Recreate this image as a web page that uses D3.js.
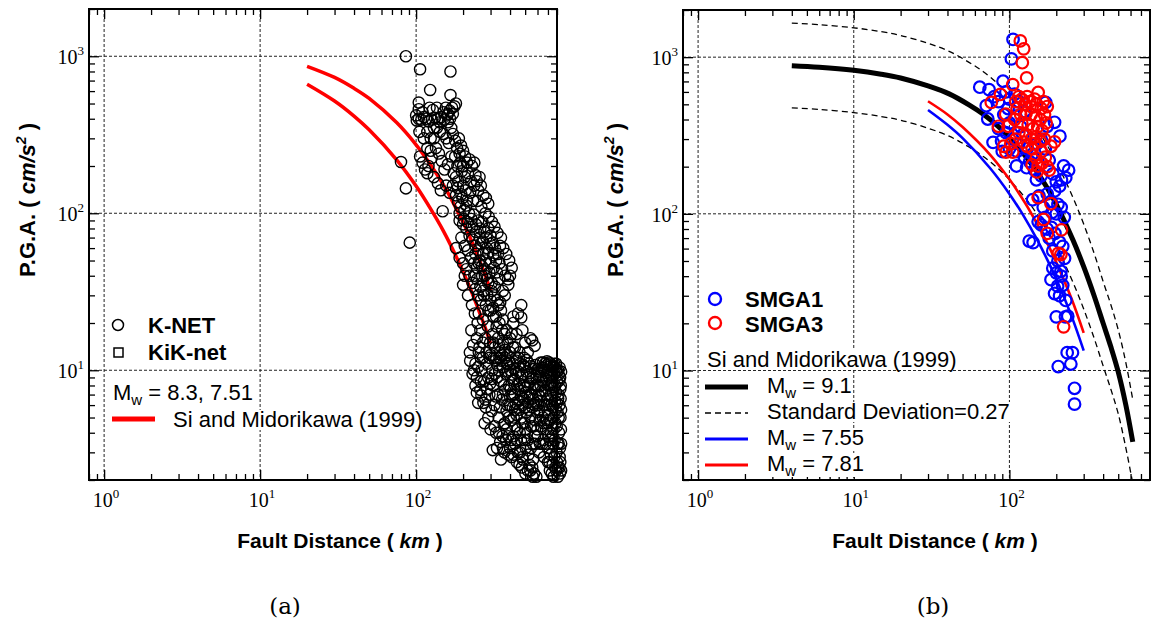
<!DOCTYPE html>
<html>
<head>
<meta charset="utf-8">
<title>P.G.A. vs Fault Distance</title>
<script src="https://cdn.jsdelivr.net/npm/d3@7/dist/d3.min.js"></script>
<style>
  body { margin: 0; background: #fff; }
  svg { display: block; }
</style>
</head>
<body>
<script>
var width = 1151, height = 623;

// (a) K-NET records: [fault distance km, PGA cm/s2]
const knet = [
  [86,1000],[106,826],[80,212],[86,144],[91,65],[104,507],[123,610],[166,800],[166,566],
  [101,390],[104,400],[108,395],[112,410],[116,400],[120,385],[126,395],[132,405],[138,400],[145,410],
  [152,395],[158,420],[164,450],[170,470],[176,480],[180,500],[172,430],[160,380],[136,470],[128,455],
  [118,330],[124,300],[130,350],[142,330],[150,320],[156,300],[162,280],[168,350],[110,210],[114,190],
  [120,200],[106,230],[126,225],[134,260],[140,240],[146,215],[152,190],[160,205],[168,230],[174,180],
  [180,170],[118,180],[130,170],[138,155],[148,103],[144,140],[156,150],[164,135],[172,150],[184,200],
  [190,240],[196,185],[200,150],[205,170],[215,180],[225,160],[240,175],[250,140],[232,120],[212,120],
  [180,130],[186,118],[192,110],[198,125],[204,105],[210,112],[218,100],[226,92],[234,98],[242,85],
  [250,90],[258,80],[266,88],[274,76],[282,70],[290,80],[300,72],[310,65],[320,60],[335,55],[345,62],
  [190,90],[200,85],[210,80],[220,72],[230,68],[240,62],[250,58],[260,64],[270,55],[280,50],[290,56],
  [300,48],[315,45],[330,42],[195,70],[205,62],[215,58],[225,52],[235,48],[245,45],[255,50],[265,40],
  [275,44],[285,38],[295,42],[305,36],[320,34],[340,38],[360,32],[370,30],[400,40],[390,35],[180,60],
  [190,52],[200,48],[210,44],[220,40],[230,36],[240,33],[250,30],[260,28],[270,32],[280,26],[290,24],
  [300,28],[312,25],[325,22],[338,26],[350,24],[360,21],[472,26],[472,21.7],[575,14.3],[555,15.5],
  [200,35],[215,30],[228,26],[238,23],[248,20],[258,18],[268,21],[278,16],[288,19],[298,15],[310,17],
  [320,14],[335,16],[345,13],[360,15],[380,18],[400,16],[420,20],[440,17],[450,23],[226,18],[221,13],
  [232,14.5],[222,11.5],[230,9.5],[240,8],[250,10.5],[260,12],[275,4.6],[205,40],[410,17],[430,14],
  [460,13],[500,15],[520,13],[540,16],[480,18],[420,22],[245,7.2],[262,6.9],[285,7.6],[298,8.2],
  [240,11],[245,9],[252,13],[258,7.5],[262,10],[268,12],[272,8.5],[278,6.5],[284,11],[290,9],[295,7],
  [300,12.5],[305,5.5],[308,10],[312,8],[318,6],[322,11.5],[326,4],[330,9],[334,7],[338,5],[342,12],
  [346,3.5],[350,8.5],[355,6.5],[360,10.5],[364,4.5],[368,3],[372,7.5],[376,9.5],[380,5.5],[385,12.5],
  [390,3.8],[394,8],[398,6],[402,10],[406,4.8],[410,2.8],[414,7],[418,11],[422,5],[426,8.8],[430,3.4],
  [434,6.2],[438,9.6],[442,2.6],[446,4.2],[450,7.6],[455,12],[460,5.6],[464,3],[468,9],[472,6.8],
  [476,2.4],[480,4.6],[485,10.8],[490,8],[494,3.6],[498,5.8],[502,2.2],[506,7.2],[510,9.8],[515,4],
  [520,6.2],[525,2.9],[530,11],[535,8.4],[540,5],[545,3.2],[550,7],[555,2.4],[560,9],[566,4.4],[572,6],
  [578,3.8],[584,8],[590,2.1],[596,5.4],[602,10.2],[608,7],[614,3],[620,4.8],[626,9.2],[632,6.4],
  [644,8.6],[650,5],[656,3.6],[662,10],[668,7.4],[680,4.2],[686,9.6],[692,6],[698,3.2],[704,8],
  [710,5.2],[716,2.6],[722,10.6],[728,7],[734,4],[740,2.2],[746,9],[752,5.8],[758,3.4],[764,7.8],
  [770,2.8],[776,6.4],[782,4.6],[788,10],[794,3],[800,8.4],[806,5.4],[812,2.4],[818,7],[824,4],[830,6],
  [836,3.2],[842,5],[848,4.2],[320,9.5],[340,10],[360,7],[380,11],[400,6.8],[420,8.6],[440,11.5],
  [460,8.2],[480,6],[500,10.5],[520,8],[540,9.6],[560,6.6],[580,10.8],[600,8],[620,6.8],[640,10.4],
  [660,6],[680,8.8],[700,10],[720,6.4],[740,8.4],[760,10.6],[780,8],[800,6.2],[820,9.4],[840,7.6],
  [850,9.8],[700,4.6],[720,3.6],[760,4.2],[780,2.4],[820,3.4],[840,2.6],[850,5.6],[660,2.8],[600,3.8],
  [580,4.8],[560,3.4],[500,4.2],[470,3.6],[430,5.6],[400,3.2],[370,4.6],[350,2.7],[330,3.2],[318,4.4],
  [310,3.1],[760,2.1],[810,2.1],[836,2.2],[570,2.2],
  [305,8.8],[315,12],[325,6.8],[332,10.8],[344,5.8],[352,11.5],[358,3.8],[366,8],[374,12],[378,3.6],
  [384,6],[388,9.8],[392,5],[396,11.4],[404,7.6],[408,3.6],[412,9.4],[416,5.8],[420,2.9],[424,10.2],
  [428,7],[432,4.4],[436,12],[440,5.2],[444,8],[448,3],[452,9.8],[456,6.4],[462,4],[466,11],[470,7.4],
  [474,5],[478,9.4],[482,2.7],[488,6.6],[492,12],[496,4.6],[500,7.8],[504,3.2],[508,5.4],[512,11.6],
  [516,6.8],[520,3.6],[524,9],[528,5.6],[532,2.5],[536,7],[542,10.6],[546,4.4],[552,8.8],[556,5.8],
  [562,2.7],[568,7.6],[574,10.2],[580,3.4],[586,6.2],[592,9],[598,4.2],[604,6],[610,9.8],[616,5.6],
  [622,3.4],[628,8],[634,4.4],[640,7.4],[646,3.4],[652,10.4],[658,4.6],[664,8.4],[670,5.4],[676,3.4],
  [682,7],[688,4.8],[694,10.8],[700,6.6],[706,3.8],[712,9],[718,4.8],[724,8],[730,2.9],[736,6],[742,10],
  [748,3.8],[754,7.2],[760,5],[766,9.4],[772,3.6],[778,10.4],[784,5.6],[790,7.2],[796,4.4],[802,9.8],
  [808,3.4],[814,6.6],[820,5],[826,8.6],[832,2.8],[838,9],[844,6.6],[850,3.4],[846,8],[832,10.4],
  [812,10],[790,11],[770,11],[750,10.4],[730,11],[712,11.2],[690,11.4],[670,11],[650,11.2],[630,11.2],
  [700,2.6],[720,2.3],[750,2.5],[790,2.3],[800,2.6],[830,2.4],[850,2.3],[560,2.1],[540,2.3],[520,2.3],
  [480,2.8],[460,2.5],[440,3.6],[420,3.8],[390,2.9],[380,4.2],[360,3.2],[340,4],[300,4.2],[290,5],
  [280,5.8],[270,6.2],[250,6.2],[260,8.5],[235,10],
  [185,145],[195,132],[208,140],[222,135],[236,150],[248,120],[262,110],[278,100],[292,95],[306,88],
  [318,82],[332,75],[350,70],[362,60],[378,55],[395,50],[410,45],[190,100],[202,92],[214,88],[228,82],
  [242,76],[256,70],[268,66],[284,60],[298,64],[312,54],[326,50],[342,48],[356,44],[372,40],[388,38],
  [240,55],[252,48],[264,46],[276,40],[290,36],[304,32],[318,30],[332,28],[346,27],[236,40],[246,38],
  [258,34],[272,30],[286,30],[300,24],[314,22],[328,19],[342,20],[356,18],[370,17],[386,15],[400,13],
  [418,14],[268,15],[282,13],[296,12],[312,15],[326,12],[340,14.5],[355,12.5],[370,13.5],[385,11],
  [245,16],[255,14],[252,23],
  [105,330],[112,300],[118,260],[124,250],[130,300],[136,350],[142,380],[150,440],[155,470],[160,430],
  [165,400],[172,320],[178,290],[183,260],[188,300],[194,270],[200,250],[206,230],[212,210],[220,220],
  [228,200],[236,210],[245,160],[255,170],[260,150],[270,130],[280,125],[290,115],[200,200],[186,160],
  [192,210],[178,230],[100,420],[104,460],[110,440],[122,470]
];

// (b) SMGA1 / SMGA3 records
const smga1 = [
  [105.5,1297],[103,975],[64.5,643],[74,620],[91,702],[71,490],[72.6,403],[78.5,286],[89,292],[111,202],
  [129,197],[175,362],[211,313],[223,202],[216,165],[149,165],[175,134],[141,123],[134,67],[153,89],
  [186,82],[195,31],[200,22],[229,22],[206,10.6],[235,13],[254,13],[248,11],[262,7.7],[262,6.1],
  [171,514],[195,384],[237,22.2],[214,43],[204,34.5],[220,62],[142,65.5],
  [80,560],[85,520],[95,600],[98,470],[100,540],[108,580],[115,520],[92,430],[100,380],[110,420],
  [118,360],[125,450],[85,350],[95,330],[105,300],[115,280],[122,320],[130,260],[140,240],[150,280],
  [160,300],[170,260],[180,220],[190,180],[200,160],[210,150],[195,140],[185,120],[165,110],[155,130],
  [160,175],[145,190],[135,215],[125,230],[112,250],[100,260],[90,250],[170,95],[180,70],[190,58],
  [205,50],[215,40],[200,42],[190,45],[175,80],[160,85],[210,30],[220,35],[185,38],[230,28],[200,100],
  [215,110],[225,95],[240,190],[230,170],[205,115],[188,102],[196,75],[210,66],[226,52]
];
const smga3 = [
  [117.5,1270],[123.5,1130],[121,922],[129,738],[76.5,514],[87.6,578],[105,668],[153,595],[175,484],
  [94.7,432],[98,362],[85,362],[95,248],[105,248],[123,287],[149,227],[153,202],[185,270],[195,288],
  [153,127],[185,116],[166,92],[175,75],[216,79],[206,56],[223,19],[214,55],
  [110,520],[115,560],[120,540],[125,500],[130,560],[135,520],[140,480],[145,540],[150,500],[160,470],
  [165,520],[112,470],[118,430],[128,440],[138,430],[148,420],[158,400],[168,430],[108,400],[120,380],
  [132,370],[142,350],[152,360],[162,340],[172,380],[115,330],[128,320],[138,300],[148,310],[158,290],
  [168,300],[130,270],[140,260],[145,280],[160,250],[170,230],[162,210],[175,200],[180,190],[150,185],
  [140,205],[110,300],[102,280],[92,270]
];

// Si and Midorikawa (1999) curves
const smA83 = [[20,863],[30,733],[40,625],[50,539],[75,378],[100,273],[125,201],[150,151],[175,114],[200,87.5],[225,67.6],[250,52.6],[275,41.1],[300,32.3]];
const smA751 = [[20,664],[30,519],[40,416],[50,340],[75,219],[100,149],[125,105],[150,76.7],[175,56.6],[200,42.4],[225,32.2],[250,24.6],[275,19.1],[300,14.8]];
const smB91 = [[4,883],[6,863],[10,824],[15,778],[20,736],[30,655],[41,583],[55,496],[68,432],[85,360],[100,307],[125,238],[150,186],[175,146],[200,115],[256,68],[300,46],[350,30],[400,20],[450,14],[500,9.8],[560,6],[620,3.5]];
const smB91hi = [[4,1650],[6,1613],[10,1540],[15,1455],[20,1376],[30,1225],[41,1090],[55,927],[68,808],[85,672],[100,574],[125,445],[150,348],[175,273],[200,214],[256,127],[300,86],[350,56],[400,37],[450,26],[500,18.2],[560,11.2],[620,6.5]];
const smB91lo = [[4,474],[6,464],[10,443],[15,418],[20,396],[30,352],[41,313],[55,267],[68,232],[85,194],[100,165],[125,128],[150,100],[175,78],[200,62],[256,36.5],[300,24.7],[350,16.1],[400,10.7],[450,7.5],[500,5.3],[560,3.2],[620,1.9]];
const smB755 = [[30,460],[40,370],[50,304],[75,196],[100,134],[125,95],[150,69],[175,51],[200,38.4],[250,22.4],[300,13.4]];
const smB781 = [[30,523],[40,431],[50,358],[75,239],[100,166],[125,119],[150,87],[175,65],[200,49],[250,28.9],[300,17.4]];

const xDomain = [0.8, 800];
const yDomain = [2, 2000];
const decades = [1, 10, 100, 1000];
const panelLabels = ["(a)", "(b)"];

var svg = d3.select("body").append("svg")
  .attr("width", width)
  .attr("height", height);

var sans = "'Liberation Sans', Arial, sans-serif";
var serif = "'Liberation Serif', 'Times New Roman', serif";

function minorTicks(dom) {
  var out = [];
  for (var e = -1; e <= 3; e++) {
    for (var m = 2; m <= 9; m++) {
      var v = m * Math.pow(10, e);
      if (v >= dom[0] && v <= dom[1]) out.push(v);
    }
  }
  return out;
}

function drawPanel(p) {
  var x = d3.scaleLog().domain(xDomain).range([p.x0, p.x1]);
  var y = d3.scaleLog().domain(yDomain).range([p.y1, p.y0]);
  var g = svg.append("g");

  g.append("clipPath").attr("id", "clip" + p.id)
    .append("rect").attr("x", p.x0).attr("y", p.y0)
    .attr("width", p.x1 - p.x0).attr("height", p.y1 - p.y0);

  // dashed grid at decades
  var grid = g.append("g").attr("stroke", "#222").attr("stroke-width", 1).attr("stroke-dasharray", "3,2");
  decades.filter(d => d <= xDomain[1]).forEach(function (d) {
    grid.append("line").attr("x1", x(d)).attr("x2", x(d)).attr("y1", p.y0).attr("y2", p.y1);
  });
  decades.filter(d => d >= 10).forEach(function (d) {
    grid.append("line").attr("x1", p.x0).attr("x2", p.x1).attr("y1", y(d)).attr("y2", y(d));
  });

  // inward ticks on all four sides
  var xMaj = decades.filter(d => d <= xDomain[1]);
  var yMaj = decades.filter(d => d >= 10);
  var xMin = minorTicks(xDomain), yMin = minorTicks(yDomain);
  function ax(gen, scale, vals, size, tr) {
    var a = g.append("g").attr("transform", tr)
      .call(gen(scale).tickValues(vals).tickSize(-size).tickFormat(""));
    a.select(".domain").remove();
    a.selectAll("line").attr("stroke", "#000").attr("stroke-width", 1.3);
  }
  ax(d3.axisBottom, x, xMaj, 10, "translate(0," + p.y1 + ")");
  ax(d3.axisBottom, x, xMin, 6, "translate(0," + p.y1 + ")");
  ax(d3.axisTop, x, xMaj, 10, "translate(0," + p.y0 + ")");
  ax(d3.axisTop, x, xMin, 6, "translate(0," + p.y0 + ")");
  ax(d3.axisLeft, y, yMaj, 10, "translate(" + p.x0 + ",0)");
  ax(d3.axisLeft, y, yMin, 6, "translate(" + p.x0 + ",0)");
  ax(d3.axisRight, y, yMaj, 10, "translate(" + p.x1 + ",0)");
  ax(d3.axisRight, y, yMin, 6, "translate(" + p.x1 + ",0)");

  g.append("rect").attr("x", p.x0).attr("y", p.y0)
    .attr("width", p.x1 - p.x0).attr("height", p.y1 - p.y0)
    .attr("fill", "none").attr("stroke", "#000").attr("stroke-width", 2);

  // tick labels 10^n
  xMaj.forEach(function (d) {
    var t = g.append("text").attr("x", x(d) + 2).attr("y", p.y1 + 27)
      .attr("text-anchor", "middle").attr("font-family", serif).attr("font-size", 20);
    t.append("tspan").text("10");
    t.append("tspan").attr("font-size", 13).attr("dy", -9).text(Math.round(Math.log10(d)));
  });
  yMaj.forEach(function (d) {
    var t = g.append("text").attr("x", p.x0 - 5).attr("y", y(d) + 8)
      .attr("text-anchor", "end").attr("font-family", serif).attr("font-size", 20);
    t.append("tspan").text("10");
    t.append("tspan").attr("font-size", 13).attr("dy", -9).text(Math.round(Math.log10(d)));
  });

  // axis titles
  var xt = g.append("text").attr("x", p.xTitle).attr("y", 548)
    .attr("text-anchor", "middle").attr("font-family", sans).attr("font-size", 21)
    .attr("font-weight", "bold");
  xt.append("tspan").text("Fault Distance ( ");
  xt.append("tspan").attr("font-style", "italic").text("km");
  xt.append("tspan").text(" )");

  var yt = g.append("text").attr("transform", "translate(" + p.yTitle + ",200) rotate(-90)")
    .attr("text-anchor", "middle").attr("font-family", sans).attr("font-size", 22)
    .attr("font-weight", "bold");
  yt.append("tspan").text("P.G.A.  (  ");
  yt.append("tspan").attr("font-style", "italic").text("cm/s");
  yt.append("tspan").attr("font-size", 14).attr("dy", -9).attr("font-style", "italic").text("2");
  yt.append("tspan").attr("dy", 9).text("  )");

  g.append("text").attr("x", p.labelX).attr("y", 614).attr("text-anchor", "middle")
    .attr("font-family", "'DejaVu Serif', serif").attr("font-size", 23).text(p.label);

  return { g: g, x: x, y: y };
}

var line = function (x, y) {
  return d3.line().x(d => x(d[0])).y(d => y(d[1])).curve(d3.curveCatmullRom.alpha(0.5));
};

function legendText(g, xp, yp, parts, bold) {
  var t = g.append("text").attr("x", xp).attr("y", yp)
    .attr("font-family", sans).attr("font-size", 22)
    .attr("font-weight", bold ? "bold" : "normal");
  var afterSub = false;
  parts.forEach(function (s) {
    if (s === "_w") {
      t.append("tspan").attr("font-size", 15).attr("dy", 5).text("w");
      afterSub = true;
    } else {
      var ts = t.append("tspan").text(s);
      if (afterSub) { ts.attr("dy", -5); afterSub = false; }
    }
  });
  var b = t.node().getBBox();
  g.insert("rect", function () { return t.node(); })
    .attr("x", b.x - 1).attr("y", b.y + 3).attr("width", b.width + 2).attr("height", b.height - 5)
    .attr("fill", "#fff");
  return t;
}

// ---------- panel (a) ----------
var A = drawPanel({ id: "a", x0: 89, x1: 557, y0: 9, y1: 480, xTitle: 340, yTitle: 35, labelX: 285, label: panelLabels[0] });
var ca = A.g.append("g").attr("clip-path", "url(#clipa)");
[smA83, smA751].forEach(function (s) {
  ca.append("path").datum(s).attr("d", line(A.x, A.y)).attr("fill", "none")
    .attr("stroke", "#f00").attr("stroke-width", 3.5);
});
A.g.append("g").selectAll("circle").data(knet).enter().append("circle")
  .attr("cx", d => A.x(d[0])).attr("cy", d => A.y(d[1])).attr("r", 5.6)
  .attr("fill", "none").attr("stroke", "#000").attr("stroke-width", 1.4);

var la = A.g.append("g");
la.append("circle").attr("cx", 118).attr("cy", 325).attr("r", 5.5)
  .attr("fill", "none").attr("stroke", "#000").attr("stroke-width", 1.5);
legendText(la, 148, 333, ["K-NET"], true);
la.append("rect").attr("x", 114).attr("y", 348).attr("width", 9).attr("height", 9)
  .attr("fill", "none").attr("stroke", "#000").attr("stroke-width", 1.5);
legendText(la, 148, 360, ["KiK-net"], true);
legendText(la, 113, 400, ["M", "_w", " = 8.3, 7.51"], false);
la.append("line").attr("x1", 112).attr("x2", 155).attr("y1", 419).attr("y2", 419)
  .attr("stroke", "#f00").attr("stroke-width", 5);
legendText(la, 173, 427, ["Si and Midorikawa (1999)"], false);

// ---------- panel (b) ----------
var B = drawPanel({ id: "b", x0: 683, x1: 1150, y0: 10, y1: 480, xTitle: 935, yTitle: 623, labelX: 933, label: panelLabels[1] });
var cb = B.g.append("g").attr("clip-path", "url(#clipb)");
[smB91hi, smB91lo].forEach(function (s) {
  cb.append("path").datum(s).attr("d", line(B.x, B.y)).attr("fill", "none")
    .attr("stroke", "#000").attr("stroke-width", 1.3).attr("stroke-dasharray", "6,4");
});
cb.append("path").datum(smB91).attr("d", line(B.x, B.y)).attr("fill", "none")
  .attr("stroke", "#000").attr("stroke-width", 5);
cb.append("path").datum(smB755).attr("d", line(B.x, B.y)).attr("fill", "none")
  .attr("stroke", "#0000ff").attr("stroke-width", 2.6);
cb.append("path").datum(smB781).attr("d", line(B.x, B.y)).attr("fill", "none")
  .attr("stroke", "#ff0000").attr("stroke-width", 2.6);

B.g.append("g").selectAll("circle").data(smga1).enter().append("circle")
  .attr("cx", d => B.x(d[0])).attr("cy", d => B.y(d[1])).attr("r", 5.8)
  .attr("fill", "none").attr("stroke", "#0000ff").attr("stroke-width", 2.2);
B.g.append("g").selectAll("circle").data(smga3).enter().append("circle")
  .attr("cx", d => B.x(d[0])).attr("cy", d => B.y(d[1])).attr("r", 5.8)
  .attr("fill", "none").attr("stroke", "#ff0000").attr("stroke-width", 2.2);

var lb = B.g.append("g");
lb.append("circle").attr("cx", 715).attr("cy", 299).attr("r", 6)
  .attr("fill", "none").attr("stroke", "#0000ff").attr("stroke-width", 2.4);
legendText(lb, 745, 307, ["SMGA1"], true);
lb.append("circle").attr("cx", 715).attr("cy", 323).attr("r", 6)
  .attr("fill", "none").attr("stroke", "#ff0000").attr("stroke-width", 2.4);
legendText(lb, 745, 332, ["SMGA3"], true);
legendText(lb, 707, 367, ["Si and Midorikawa (1999)"], false);
lb.append("line").attr("x1", 705).attr("x2", 748).attr("y1", 387).attr("y2", 387)
  .attr("stroke", "#000").attr("stroke-width", 5);
legendText(lb, 767, 393, ["M", "_w", " = 9.1"], false);
lb.append("line").attr("x1", 705).attr("x2", 748).attr("y1", 413).attr("y2", 413)
  .attr("stroke", "#000").attr("stroke-width", 1.3).attr("stroke-dasharray", "6,4");
legendText(lb, 767, 419, ["Standard Deviation=0.27"], false);
lb.append("line").attr("x1", 705).attr("x2", 748).attr("y1", 439).attr("y2", 439)
  .attr("stroke", "#0000ff").attr("stroke-width", 3);
legendText(lb, 767, 445, ["M", "_w", " = 7.55"], false);
lb.append("line").attr("x1", 705).attr("x2", 748).attr("y1", 465).attr("y2", 465)
  .attr("stroke", "#ff0000").attr("stroke-width", 3);
legendText(lb, 767, 471, ["M", "_w", " = 7.81"], false);
</script>
</body>
</html>
